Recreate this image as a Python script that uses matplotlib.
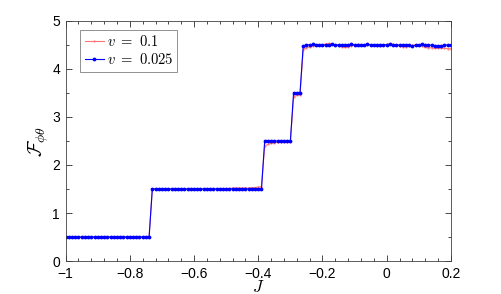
import numpy as np
import matplotlib
matplotlib.use("Agg")
import matplotlib.pyplot as plt
from matplotlib.ticker import MultipleLocator

plt.rcParams['font.family'] = ['Liberation Sans', 'DejaVu Sans']
plt.rcParams['mathtext.fontset'] = 'cm'

# J grid values (step 0.01 from -1 to 0.2)
J = [round(-1 + 0.01 * i, 2) for i in range(121)]

# blue series v = 0.025
F_blue = ([0.5] * 27 + [1.5] * 35 + [2.5] * 9 + [3.5] * 3 +
          [4.48, 4.50, 4.50, 4.51, 4.50, 4.50, 4.49, 4.50, 4.50, 4.51,
           4.50, 4.50, 4.49, 4.50, 4.50, 4.51, 4.50, 4.49, 4.50, 4.50,
           4.51, 4.50, 4.50, 4.49, 4.50, 4.50, 4.50, 4.51, 4.50, 4.49,
           4.50, 4.50, 4.50, 4.49, 4.48, 4.49, 4.50, 4.51, 4.50, 4.50,
           4.49, 4.48, 4.47, 4.48, 4.49, 4.50, 4.50])

# red series v = 0.1
F_red = ([0.5] * 27 +
         [1.5, 1.5, 1.5, 1.5, 1.5, 1.5, 1.5, 1.5, 1.5, 1.5,
          1.5, 1.5, 1.5, 1.5, 1.5, 1.5, 1.5, 1.5, 1.5, 1.5,
          1.5, 1.51, 1.51, 1.51, 1.51, 1.52, 1.52, 1.52, 1.52, 1.52,
          1.52, 1.53, 1.53, 1.54, 1.55] +
         [2.40, 2.43, 2.45, 2.46, 2.47, 2.47, 2.48, 2.48, 2.48] +
         [3.42, 3.45, 3.46] +
         [4.40, 4.44, 4.46, 4.48, 4.49, 4.50, 4.50, 4.52, 4.53, 4.52,
          4.50, 4.48, 4.46, 4.45, 4.46, 4.48, 4.50, 4.51, 4.50, 4.49,
          4.50, 4.50, 4.49, 4.48, 4.48, 4.50, 4.51, 4.52, 4.51, 4.50,
          4.48, 4.46, 4.46, 4.47, 4.49, 4.50, 4.49, 4.47, 4.45, 4.44,
          4.44, 4.43, 4.43, 4.43, 4.43, 4.42, 4.42])

xticks = [-1, -0.8, -0.6, -0.4, -0.2, 0, 0.2]
xticklabels = ['−1', '−0.8', '−0.6', '−0.4', '−0.2', '0', '0.2']

fig = plt.figure(figsize=(5.01, 2.94), dpi=100)
ax = fig.add_axes([0.131, 0.112, 0.769, 0.817])

ax.plot(J, F_red, color=(1.0, 0.45, 0.45), lw=0.8, marker='.', markersize=1.0,
        label=r'$v\ =\ 0.1$')
ax.plot(J, F_blue, color='blue', lw=0.8, marker='.', markersize=3.5,
        label=r'$v\ =\ 0.025$')

ax.set_xlim(-1, 0.2)
ax.set_ylim(0, 5)
ax.set_xticks(xticks)
ax.set_xticklabels(xticklabels)
ax.xaxis.set_minor_locator(MultipleLocator(0.04))
ax.yaxis.set_major_locator(MultipleLocator(1))
ax.yaxis.set_minor_locator(MultipleLocator(0.5))
ax.tick_params(which='both', direction='in', top=True, right=True,
               labelsize=10, width=0.5)
ax.tick_params(axis='x', pad=4)
ax.tick_params(axis='y', pad=4)
ax.tick_params(which='major', length=4)
ax.tick_params(which='minor', length=2)
for s in ax.spines.values():
    s.set_linewidth(0.6)
    s.set_color('#404040')

ax.set_xlabel(r'$J$', fontsize=12, labelpad=-1)
ax.set_ylabel(r'$\mathcal{F}_{\phi\theta}$', fontsize=14, labelpad=1)

leg = ax.legend(loc='upper left', fontsize=10.5, fancybox=False,
                edgecolor='#808080', framealpha=1, handlelength=1.3,
                borderpad=0.3, labelspacing=0.2, handletextpad=0.2,
                borderaxespad=0, bbox_to_anchor=(0.038, 0.9625))
leg.get_frame().set_linewidth(0.6)

fig.savefig('out.png', dpi=100)
